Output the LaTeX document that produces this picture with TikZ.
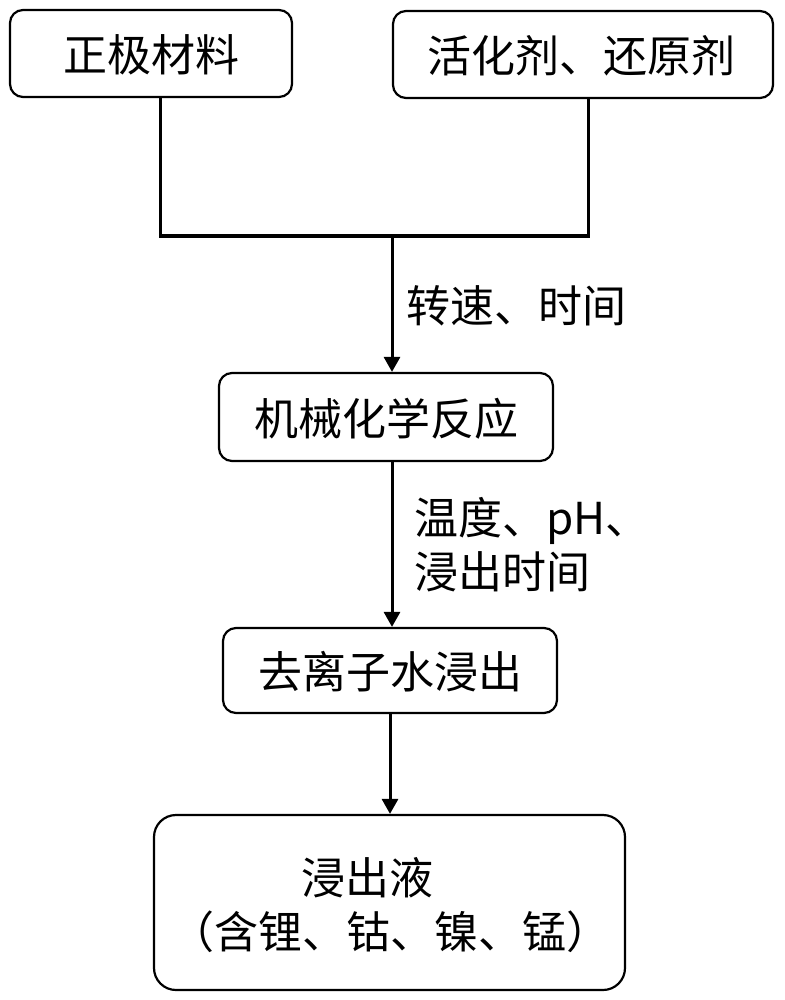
\documentclass[tikz,border=0pt]{standalone}
\usepackage{fontspec}
\setmainfont{Noto Sans CJK SC}
\usetikzlibrary{arrows.meta}
\begin{document}
\begin{tikzpicture}[x=1pt,y=-1pt,
  box/.style={draw=black,line width=2.2pt,rounded corners=13pt,inner sep=0pt},
  conn/.style={line width=3pt},
  arr/.style={line width=3pt,-{Triangle[width=16pt,length=15pt]}},
  lbl/.style={font=\fontsize{44}{52}\selectfont,inner sep=0pt,anchor=west},
  txt/.style={font=\fontsize{44}{52}\selectfont,inner sep=0pt}]
\useasboundingbox (0,0) rectangle (784,1000);
% boxes
\node[box,minimum width=282pt,minimum height=87pt] (a) at (151,53.5) {};
\node[txt] at (151,55) {正极材料};
\node[box,minimum width=380pt,minimum height=87pt] (b) at (583,54.5) {};
\node[txt] at (581,56) {活化剂、还原剂};
\node[box,minimum width=334pt,minimum height=88pt] (c) at (386,417) {};
\node[txt] at (386,419) {机械化学反应};
\node[box,minimum width=334pt,minimum height=85pt] (d) at (390,670.5) {};
\node[txt] at (390,672) {去离子水浸出};
\node[box,minimum width=471pt,minimum height=175pt,rounded corners=22pt] (e) at (389.5,902.5) {};
\node[txt] (e1) at (367,878) {浸出液};
\node[txt] (e2) at (390,932) {（含锂、钴、镍、锰）};
% connectors
\coordinate (j) at (392,236);
\draw[conn] (a.south -| 160,0) |- (j);
\draw[conn] (b.south -| 588,0) |- (j);
\draw[arr] (j) -- (c.north -| 392,0);
\draw[arr] (c.south -| 392,0) -- (d.north -| 392,0);
\draw[arr] (d.south -| 390,0) -- (e.north -| 390,0);
% labels
\node[lbl] at (406,306) {转速、时间};
\node[lbl] at (414,521) {温度、pH、};
\node[lbl] at (414,572) {浸出时间};
\end{tikzpicture}
\end{document}
